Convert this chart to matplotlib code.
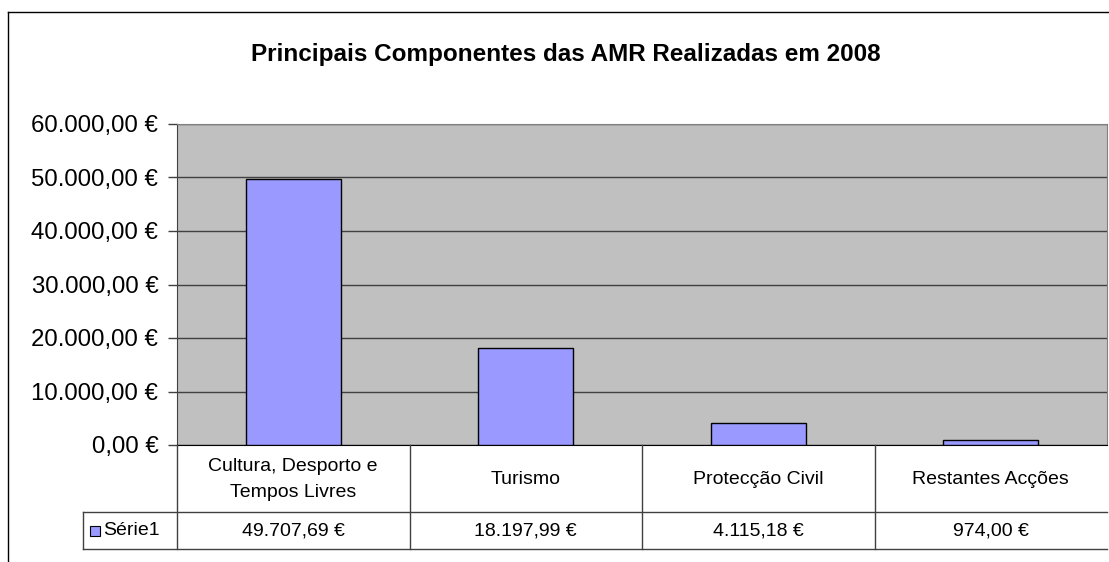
import matplotlib.pyplot as plt
from matplotlib.lines import Line2D
from matplotlib.patches import Rectangle
from matplotlib.ticker import FuncFormatter

plt.rcParams['font.family'] = ['Liberation Sans', 'DejaVu Sans']

categories = ['Cultura, Desporto e\nTempos Livres', 'Turismo', 'Protecção Civil', 'Restantes Acções']
values = [49707.69, 18197.99, 4115.18, 974.00]
series_name = 'Série1'
title = 'Principais Componentes das AMR Realizadas em 2008'
yticks = [0, 10000, 20000, 30000, 40000, 50000, 60000]


def euro(v, pos=None):
    s = f'{v:,.2f}'.replace(',', ' ').replace('.', ',').replace(' ', '.')
    return s + ' €'


W, H = 1109, 562
fig = plt.figure(figsize=(W / 100, H / 100), dpi=100)

# chart frame (cut on the right and bottom)
fig.add_artist(Line2D([8 / W, 8 / W], [0, 1 - 12 / H], color='black', lw=1))
fig.add_artist(Line2D([8 / W, 1], [1 - 12 / H, 1 - 12 / H], color='black', lw=1))

fig.text(566 / W, 1 - 54 / H, title, ha='center', va='center',
         fontsize=17.5, fontweight='bold')

left, right, top, bottom = 177, 1107, 124, 445
ax = fig.add_axes([left / W, 1 - bottom / H, (right - left) / W, (bottom - top) / H])
ax.set_facecolor('#C0C0C0')
x = list(range(len(values)))
ax.bar(x, values, width=0.41, color='#9999FF', edgecolor='black', lw=1, zorder=3)
ax.set_xlim(-0.5, len(values) - 0.5)
ax.set_ylim(0, 60000)
ax.set_yticks(yticks)
ax.yaxis.set_major_formatter(FuncFormatter(euro))
ax.yaxis.grid(True, color='#404040', lw=1)
ax.set_axisbelow(True)
ax.set_xticks([])
ax.tick_params(axis='y', labelsize=17.3, length=6.5, width=1, color='#404040', pad=7)
for s in ['top', 'right']:
    ax.spines[s].set_color('#808080')
ax.spines['left'].set_color('#404040')
ax.spines['bottom'].set_color('black')

# data table below the plot area
col_w = (right - left) / len(values)
tab_left = 83
tab_bot = 549
tab = fig.add_axes([tab_left / W, 1 - tab_bot / H, (right - tab_left) / W, (tab_bot - bottom) / H])
tab.set_xlim(-0.5 - (left - tab_left) / col_w, len(values) - 0.5)
tab.set_ylim(tab_bot - bottom, 0)
tab.axis('off')
row1 = 512 - bottom
row2 = tab_bot - bottom
lc = '#404040'
x0 = tab.get_xlim()[0]
tab.plot([x0, len(values) - 0.5], [row1, row1], color=lc, lw=1, clip_on=False)
tab.plot([x0, len(values) - 0.5], [row2, row2], color=lc, lw=1, clip_on=False)
tab.plot([x0, x0], [row1, row2], color=lc, lw=1, clip_on=False)
for i in range(len(values)):
    tab.plot([i - 0.5, i - 0.5], [0, row2], color=lc, lw=1, clip_on=False)
    tab.text(i, row1 / 2 + 1, categories[i], ha='center', va='center', fontsize=14,
             linespacing=1.75)
    tab.text(i, (row1 + row2) / 2, euro(values[i]), ha='center', va='center', fontsize=14)

# legend key in the table
kx = x0 + 7 / col_w
tab.add_patch(Rectangle((kx, (row1 + row2) / 2 - 5), 10 / col_w, 10,
                        facecolor='#9999FF', edgecolor='black', lw=0.8, clip_on=False))
tab.text(kx + 13 / col_w, (row1 + row2) / 2, series_name, ha='left', va='center', fontsize=14)

fig.savefig('out.png', dpi=100)
